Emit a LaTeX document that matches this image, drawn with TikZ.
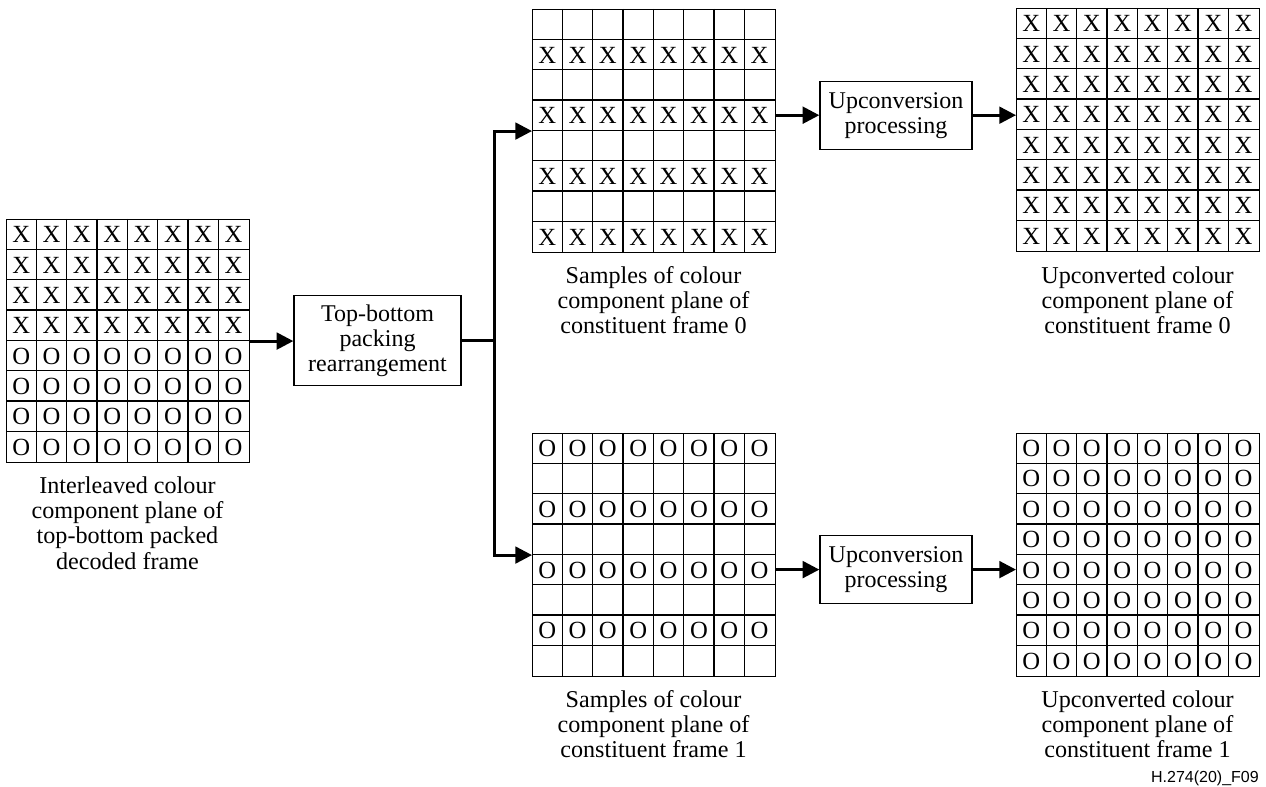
\documentclass[tikz,border=0pt]{standalone}
\usepackage{fontspec}
\setmainfont{Liberation Serif}
\newfontfamily\sansf{Liberation Sans}
\usetikzlibrary{arrows.meta,calc}
\newcommand\drawgridlines[1]{%
  \foreach \i in {1,...,7}{%
    \draw[gridline] ($(#1.north west)+(\i*30.35,0)$) -- ($(#1.south west)+(\i*30.35,0)$);
    \draw[gridline] ($(#1.north west)+(0,\i*30.35)$) -- ($(#1.north east)+(0,\i*30.35)$);
  }}
\newcommand\fillrow[3]{%
  \foreach \c in {0,...,7}{%
    \node[cell] at ($(#1.north west)+(\c*30.35+15.18,#2*30.35+15.6)$) {#3};
  }}
\begin{document}
\begin{tikzpicture}[x=0.75pt,y=-0.75pt,
  gridbox/.style={draw, line width=1pt, minimum width=182.1pt, minimum height=182.1pt, inner sep=0pt, anchor=north west},
  gridline/.style={line width=1pt},
  cell/.style={font=\fontsize{18.5pt}{18.5pt}\selectfont, inner sep=0pt},
  procbox/.style={draw, line width=1pt, align=center, font=\fontsize{18pt}{18.8pt}\selectfont, inner sep=0pt},
  caption/.style={align=center, font=\fontsize{18.1pt}{19pt}\selectfont, anchor=north, inner sep=0pt},
  flow/.style={line width=2.2pt, -{Triangle[length=12.5pt,width=12.5pt]}},
  trunk/.style={line width=2.2pt},
]
\useasboundingbox (0,0) rectangle (1266,787);

% grids
\node[gridbox] (L) at (6,219) {};
\node[gridbox] (M0) at (532,9) {};
\node[gridbox] (M1) at (532,433) {};
\node[gridbox] (R0) at (1016,8) {};
\node[gridbox] (R1) at (1016,433) {};
\drawgridlines{L}
\drawgridlines{M0}
\drawgridlines{M1}
\drawgridlines{R0}
\drawgridlines{R1}
\foreach \r in {0,...,3}{\fillrow{L}{\r}{X}}
\foreach \r in {4,...,7}{\fillrow{L}{\r}{O}}
\foreach \r in {1,3,5,7}{\fillrow{M0}{\r}{X}}
\foreach \r in {0,2,4,6}{\fillrow{M1}{\r}{O}}
\foreach \r in {0,...,7}{\fillrow{R0}{\r}{X}}
\foreach \r in {0,...,7}{\fillrow{R1}{\r}{O}}

% process boxes
\node[procbox, minimum width=125.25pt, minimum height=67.5pt] (P) at (377.5,340.4) {Top-bottom\\packing\\rearrangement};
\node[procbox, minimum width=114pt, minimum height=51pt] (U0) at (896,115.2) {Upconversion\\processing};
\node[procbox, minimum width=114pt, minimum height=51pt] (U1) at (896,569.6) {Upconversion\\processing};

% captions
\node[caption] (cL) at (127.5,476) {Interleaved colour\\component plane of\\top-bottom packed\\decoded frame};
\node[caption] (cM0) at (653.5,266) {Samples of colour\\component plane of\\constituent frame 0};
\node[caption] (cM1) at (653.5,690) {Samples of colour\\component plane of\\constituent frame 1};
\node[caption] (cR0) at (1137.5,266) {Upconverted colour\\component plane of\\constituent frame 0};
\node[caption] (cR1) at (1137.5,690) {Upconverted colour\\component plane of\\constituent frame 1};
\node[anchor=base east, inner sep=0pt, font=\sansf\fontsize{12pt}{12pt}\selectfont] (fig) at (1259,782) {H.274(20)\_F09};

% connectors
\draw[flow] (L.east) -- (L.east -| P.west);
\draw[trunk] (P.east) -- ++(33,0) coordinate (J);
\draw[flow] (J) |- (M0.west);
\draw[flow] (J) |- (M1.west);
\draw[flow] (M0.east |- U0.west) -- (U0.west);
\draw[flow] (U0.east) -- (U0.east -| R0.west);
\draw[flow] (M1.east |- U1.west) -- (U1.west);
\draw[flow] (U1.east) -- (U1.east -| R1.west);
\end{tikzpicture}
\end{document}
